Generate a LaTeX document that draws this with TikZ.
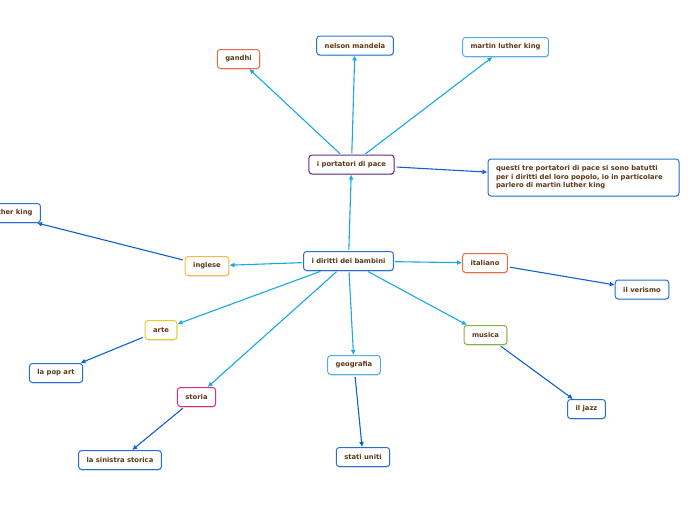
\documentclass[tikz,border=0pt]{standalone}
\usepackage{fontspec}
\setmainfont{DejaVu Sans}
\usetikzlibrary{arrows.meta,shadows}
\definecolor{maptext}{RGB}{92,56,22}
\definecolor{mainlink}{RGB}{22,168,232}
\definecolor{sublink}{RGB}{16,96,208}
\definecolor{bdblue}{RGB}{40,110,215}
\definecolor{bdlight}{RGB}{80,175,230}
\definecolor{bdorange}{RGB}{238,105,70}
\definecolor{bdpurple}{RGB}{100,40,135}
\definecolor{bdgold}{RGB}{244,185,70}
\definecolor{bdyellow}{RGB}{228,205,40}
\definecolor{bdgreen}{RGB}{135,180,60}
\definecolor{bdpink}{RGB}{222,45,120}
\tikzset{
  topic/.style={
    rectangle, rounded corners=3pt, draw=bdblue, fill=white,
    line width=1pt, minimum height=19pt, inner xsep=8pt, inner ysep=2pt,
    text=maptext, font=\fontsize{6.8}{8.5}\selectfont\bfseries,
    drop shadow={shadow xshift=0.6pt, shadow yshift=-1pt, opacity=0.25}
  },
  note/.style={topic, text width=175pt, align=left, minimum height=37pt},
  mainarrow/.style={-{Latex[length=5pt,width=5pt]}, line width=1.1pt, draw=mainlink, shorten <=1pt},
  subarrow/.style={-{Latex[length=5pt,width=5pt]}, line width=1.1pt, draw=sublink, shorten <=2pt}
}

\begin{document}
\begin{tikzpicture}[x=1pt,y=-1pt]
  \clip (0,0) rectangle (696,520);

  % centre and peace branch
  \node[topic] (diritti) at (348.5,261) {i diritti dei bambini};
  \node[topic, draw=bdpurple] (pace) at (351.5,164.5) {i portatori di pace};
  \node[topic, draw=bdorange] (gandhi) at (238.5,59) {gandhi};
  \node[topic] (mandela) at (355,45.5) {nelson mandela};
  \node[topic, draw=bdlight] (king) at (505.5,47) {martin luther king};
  \node[note] (questi) at (583.5,177.5) {questi tre portatori di pace si sono batutti\\ per i diritti del loro popolo, io in particolare\\ parlero di martin luther king};

  % subjects
  \node[topic, draw=bdgold] (inglese) at (207,266) {inglese};
  \node[topic] (kingleft) at (-2.5,213) {martin luther king};
  \node[topic, draw=bdorange] (italiano) at (485,263) {italiano};
  \node[topic] (verismo) at (642,289.5) {il verismo};
  \node[topic, draw=bdyellow] (arte) at (161,330) {arte};
  \node[topic] (popart) at (56,373) {la pop art};
  \node[topic, draw=bdgreen] (musica) at (485.5,335) {musica};
  \node[topic] (jazz) at (586.5,409) {il jazz};
  \node[topic, draw=bdlight] (geografia) at (354,365) {geografia};
  \node[topic] (usa) at (363,457) {stati uniti};
  \node[topic, draw=bdpink] (storia) at (196.5,397) {storia};
  \node[topic] (sinistra) at (120,460) {la sinistra storica};

  % links
  \draw[mainarrow] (diritti) -- (pace);
  \draw[mainarrow] (pace) -- (gandhi);
  \draw[mainarrow] (pace) -- (mandela);
  \draw[mainarrow] (pace) -- (king);
  \draw[subarrow] (pace) -- (questi);
  \draw[mainarrow] (diritti) -- (inglese);
  \draw[subarrow] (inglese) -- (kingleft);
  \draw[mainarrow] (diritti) -- (italiano);
  \draw[subarrow] (italiano) -- (verismo);
  \draw[mainarrow] (diritti) -- (musica);
  \draw[subarrow] (musica) -- (jazz);
  \draw[mainarrow] (diritti) -- (geografia);
  \draw[subarrow] (geografia) -- (usa);
  \draw[mainarrow] (diritti) -- (arte);
  \draw[subarrow] (arte) -- (popart);
  \draw[mainarrow] (diritti) -- (storia);
  \draw[subarrow] (storia) -- (sinistra);
\end{tikzpicture}
\end{document}
